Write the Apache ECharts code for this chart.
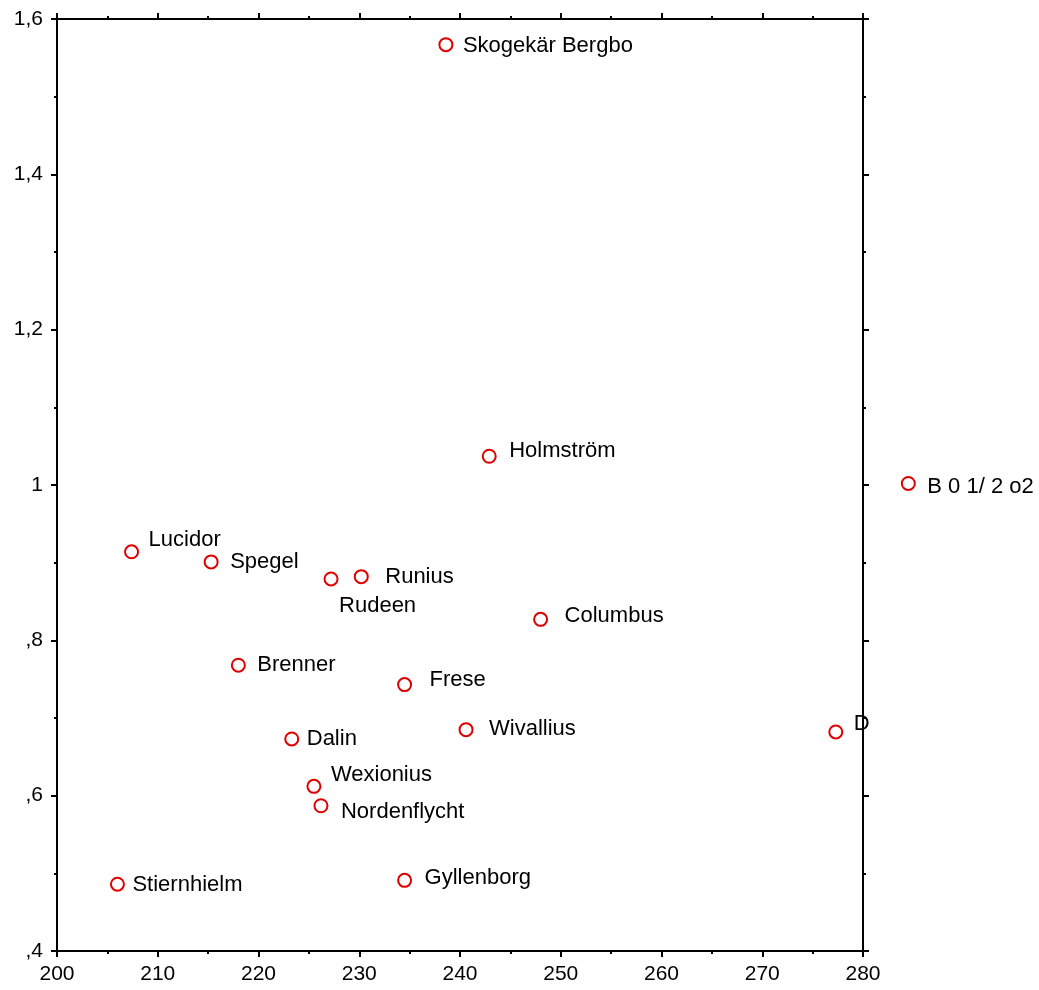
<!DOCTYPE html>
<html>
<head>
<meta charset="utf-8">
<script src="https://cdn.jsdelivr.net/npm/echarts@6/dist/echarts.min.js"></script>
<style>
html,body{margin:0;padding:0;background:#fff;}
#chart{width:1039px;height:990px;}
</style>
</head>
<body>
<div id="chart"></div>
<script>
// ---- data ----
var names = ['Skogekär Bergbo','Holmström','B 0 1/ 2 o2','Lucidor','Spegel','Rudeen','Runius','Columbus','Brenner','Frese','Dalin','Wivallius','D','Wexionius','Nordenflycht','Stiernhielm','Gyllenborg'];
var xValues = [238.6, 242.9, 284.5, 207.4, 215.3, 227.2, 230.2, 248.0, 218.0, 234.5, 223.3, 240.6, 277.3, 225.5, 226.2, 206.0, 234.5];
var yValues = [1.567, 1.037, 1.002, 0.914, 0.901, 0.879, 0.882, 0.827, 0.768, 0.743, 0.673, 0.685, 0.682, 0.612, 0.587, 0.486, 0.491];
var xTicks = [200, 210, 220, 230, 240, 250, 260, 270, 280];
var yTickLabels = {'0.4': ',4', '0.6': ',6', '0.8': ',8', '1': '1', '1.2': '1,2', '1.4': '1,4', '1.6': '1,6'};

// label layout (text left edge offset from point, vertical offset)
var labelDx = [16, 19, 18, 16, 18, 7, 23, 23, 18, 24, 14, 22, 17, 16, 19, 14, 19];
var labelDy = [1, -5, 3, -12, 0, 27, 0, -3, 0, -5, 0, -1, -8, -11, 6, 1, -2];

var FONT = 'Liberation Sans, Arial, sans-serif';
var symSize = 13;

var data = names.map(function (n, i) {
  return {
    name: n,
    value: [xValues[i], yValues[i]],
    label: { offset: [labelDx[i] - symSize / 2, labelDy[i]] }
  };
});

var axisLine = { show: true, lineStyle: { color: '#000', width: 2 } };

var chart = echarts.init(document.getElementById('chart'), null, { renderer: 'canvas' });
chart.setOption({
  animation: false,
  backgroundColor: '#fff',
  grid: { left: 57, right: 176, top: 19, bottom: 39, containLabel: false },
  xAxis: [
    {
      type: 'value', position: 'bottom', min: 200, max: 280, interval: 10,
      axisLine: axisLine,
      axisTick: { show: true, length: 6, lineStyle: { color: '#000', width: 2 } },
      minorTick: { show: true, splitNumber: 2, length: 3, lineStyle: { color: '#000', width: 2 } },
      splitLine: { show: false },
      axisLabel: { color: '#000', fontFamily: FONT, fontSize: 21, margin: 13 }
    },
    {
      type: 'value', position: 'top', min: 200, max: 280, interval: 10,
      axisLine: axisLine,
      axisTick: { show: true, length: 6, lineStyle: { color: '#000', width: 2 } },
      minorTick: { show: true, splitNumber: 2, length: 3, lineStyle: { color: '#000', width: 2 } },
      splitLine: { show: false },
      axisLabel: { show: false }
    }
  ],
  yAxis: [
    {
      type: 'value', position: 'left', min: 0.4, max: 1.6, interval: 0.2,
      axisLine: axisLine,
      axisTick: { show: true, length: 6, lineStyle: { color: '#000', width: 2 } },
      minorTick: { show: true, splitNumber: 2, length: 3, lineStyle: { color: '#000', width: 2 } },
      splitLine: { show: false },
      axisLabel: {
        color: '#000', fontFamily: FONT, fontSize: 21, margin: 14,
        formatter: function (v) {
          var k = String(Math.round(v * 10) / 10);
          return yTickLabels[k] !== undefined ? yTickLabels[k] : k;
        }
      }
    },
    {
      type: 'value', position: 'right', min: 0.4, max: 1.6, interval: 0.2,
      axisLine: axisLine,
      axisTick: { show: true, length: 6, lineStyle: { color: '#000', width: 2 } },
      minorTick: { show: true, splitNumber: 2, length: 3, lineStyle: { color: '#000', width: 2 } },
      splitLine: { show: false },
      axisLabel: { show: false }
    }
  ],
  series: [{
    type: 'scatter',
    xAxisIndex: 0, yAxisIndex: 0,
    clip: false,
    symbol: 'circle',
    symbolSize: symSize,
    itemStyle: { color: '#fff', borderColor: '#e00000', borderWidth: 2, opacity: 1 },
    label: {
      show: true, position: 'right', distance: 0,
      formatter: '{b}', color: '#000', fontFamily: FONT, fontSize: 22
    },
    emphasis: { disabled: true },
    data: data,
    z: 5
  }]
});
</script>
</body>
</html>
